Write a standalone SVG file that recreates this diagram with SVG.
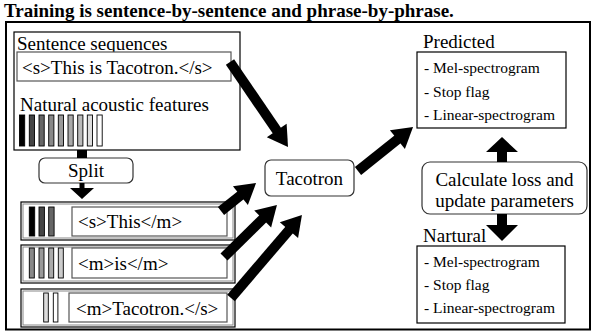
<svg xmlns="http://www.w3.org/2000/svg" width="592" height="333" viewBox="0 0 592 333">
<style>
text{font-family:"Liberation Serif","Times New Roman",serif;fill:#000}
.t19{font-size:19px}
.t15{font-size:15.5px}
.title{font-size:19px;font-weight:bold}
.box{fill:#fff;stroke:#000;stroke-width:1.2}
.inner{fill:#fff;stroke:#555;stroke-width:1.2}
.rnd{fill:#fff;stroke:#333;stroke-width:1.2}
.ph{fill:#fff;stroke:#000;stroke-width:1.2}
.phin{fill:none;stroke:#888;stroke-width:1}
.bar{stroke:#000;stroke-width:0.9}
.arr{stroke:#000;stroke-width:10;fill:none;marker-end:url(#ah)}
</style>
<defs>
<marker id="ah" markerUnits="userSpaceOnUse" markerWidth="22" markerHeight="26" refX="1" refY="13" orient="auto" overflow="visible"><path d="M0,1 L20,13 L0,25 z" fill="#000"/></marker>
</defs>
<rect width="592" height="333" fill="#fff"/>
<text class="title" x="4" y="17">Training is sentence-by-sentence and phrase-by-phrase.</text>
<rect x="6" y="22" width="584" height="307.5" fill="none" stroke="#000" stroke-width="2"/>

<g id="sentence">
<rect class="box" x="14" y="32" width="226" height="118"/>
<text class="t19" x="17" y="50">Sentence sequences</text>
<rect class="inner" x="17" y="52" width="214" height="29"/>
<text class="t19" x="22" y="74">&lt;s&gt;This is Tacotron.&lt;/s&gt;</text>
<text class="t19" x="20" y="111">Natural acoustic features</text>
<rect class="bar" x="19.5" y="115" width="5.2" height="31" fill="#000"/>
<rect class="bar" x="29.3" y="115" width="5.2" height="31" fill="#444"/>
<rect class="bar" x="39" y="115" width="5.2" height="31" fill="#666"/>
<rect class="bar" x="48.7" y="115" width="5.2" height="31" fill="#888"/>
<rect class="bar" x="58.3" y="115" width="5.2" height="31" fill="#999"/>
<rect class="bar" x="68" y="115" width="5.2" height="31" fill="#aaa"/>
<rect class="bar" x="77.7" y="115" width="5.2" height="31" fill="#bbb"/>
<rect class="bar" x="87.3" y="115" width="5.2" height="31" fill="#ddd"/>
<rect class="bar" x="97" y="115" width="5.2" height="31" fill="#fff"/>
</g>

<g id="split">
<rect class="rnd" x="39" y="158" width="94" height="25" rx="6"/>
<text class="t19" x="86" y="177" text-anchor="middle">Split</text>
</g>

<g id="phrase1">
<rect class="ph" x="21" y="202" width="214" height="38"/>
<rect class="phin" x="23" y="204" width="210" height="34"/>
<rect class="bar" x="29.3" y="207" width="5.4" height="29" fill="#000"/>
<rect class="bar" x="39" y="207" width="5.4" height="29" fill="#444"/>
<rect class="bar" x="48.7" y="207" width="5.4" height="29" fill="#666"/>
<rect class="inner" x="72" y="207" width="155" height="29"/>
<text class="t19" x="78" y="228">&lt;s&gt;This&lt;/m&gt;</text>
</g>

<g id="phrase2">
<rect class="ph" x="21" y="245" width="214" height="38"/>
<rect class="phin" x="23" y="247" width="210" height="34"/>
<rect class="bar" x="29.3" y="248" width="5" height="30" fill="#888"/>
<rect class="bar" x="39" y="248" width="5" height="30" fill="#999"/>
<rect class="bar" x="48.7" y="248" width="5" height="30" fill="#aaa"/>
<rect class="bar" x="58.3" y="248" width="5" height="30" fill="#ccc"/>
<rect class="inner" x="72" y="248" width="155" height="30"/>
<text class="t19" x="78" y="270">&lt;m&gt;is&lt;/m&gt;</text>
</g>

<g id="phrase3">
<rect class="ph" x="21" y="289" width="214" height="38"/>
<rect class="phin" x="23" y="291" width="210" height="34"/>
<rect class="bar" x="43.7" y="293" width="4.6" height="29" fill="#ddd"/>
<rect class="bar" x="53.3" y="293" width="4.6" height="29" fill="#fff"/>
<rect class="inner" x="69" y="293" width="158" height="29"/>
<text class="t19" x="76" y="315">&lt;m&gt;Tacotron.&lt;/s&gt;</text>
</g>

<g id="tacotron">
<rect class="rnd" x="265" y="160" width="89" height="36" rx="6"/>
<text class="t19" x="309.5" y="185" text-anchor="middle">Tacotron</text>
</g>

<g id="predicted">
<text class="t19" x="423" y="48">Predicted</text>
<rect class="box" x="417" y="52" width="149" height="76"/>
<text class="t15" x="424" y="73">- Mel-spectrogram</text>
<text class="t15" x="424" y="97">- Stop flag</text>
<text class="t15" x="424" y="120">- Linear-spectrogram</text>
</g>

<g id="calc">
<rect class="rnd" x="422" y="162" width="165" height="52" rx="8"/>
<text class="t19" x="504.5" y="186" text-anchor="middle">Calculate loss and</text>
<text class="t19" x="504.5" y="207" text-anchor="middle">update parameters</text>
</g>

<g id="natural">
<text class="t19" x="423" y="242">Nartural</text>
<rect class="box" x="417" y="246" width="148" height="77"/>
<text class="t15" x="424" y="267">- Mel-spectrogram</text>
<text class="t15" x="424" y="290">- Stop flag</text>
<text class="t15" x="424" y="313">- Linear-spectrogram</text>
</g>

<g id="connectors">
<rect x="77" y="150" width="10" height="8" fill="#000"/>
<polygon points="79.5,183 84.5,183 84.5,188 94,188 82,199 70,188 79.5,188" fill="#000"/>
<line class="arr" x1="230" y1="62" x2="277.3" y2="131.3"/>
<line class="arr" x1="358" y1="171" x2="398.2" y2="138.9"/>
<line class="arr" x1="221" y1="211" x2="241.2" y2="194.9"/>
<line class="arr" x1="224" y1="257" x2="263.4" y2="218.3"/>
<line class="arr" x1="231" y1="298" x2="289.6" y2="229.4"/>
<polygon points="497,162 497,152 486,152 502,137 518,152 507,152 507,162" fill="#000"/>
<polygon points="497,214 497,225 486,225 502,241 518,225 507,225 507,214" fill="#000"/>
</g>
</svg>
